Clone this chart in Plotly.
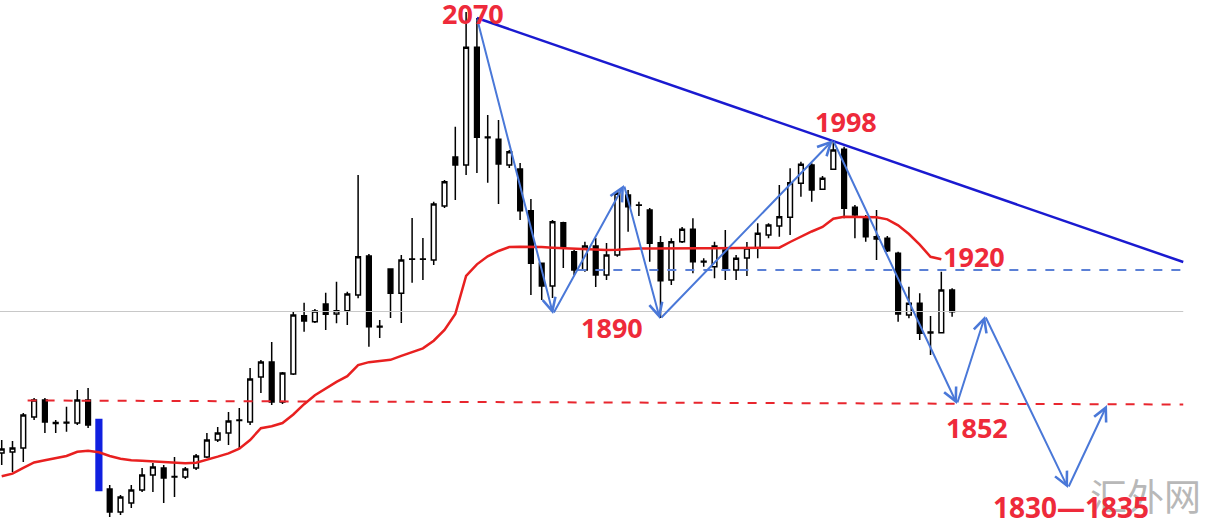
import plotly.graph_objects as go

# ---- candle data (index, open, high, low, close) ----
idx = list(range(0, 9)) + list(range(10, 89))
opens = [1809.0, 1809.6, 1812.0, 1830.6, 1840.8, 1827.3, 1827.4, 1827.0, 1840.8,
         1787.4, 1773.6, 1779.0, 1786.8, 1795.8, 1800.0, 1794.9, 1794.6, 1800.0, 1806.6,
         1816.8, 1821.0, 1828.8, 1827.6, 1854.6, 1863.6, 1839.6, 1856.4, 1891.4, 1887.8,
         1898.4, 1892.4, 1894.4, 1903.8, 1927.2, 1885.0, 1919.4, 1904.8, 1925.4, 1925.4,
         1924.8, 1957.2, 1986.6, 1981.8, 2052.4, 1998.6, 1997.2, 1981.8, 1979.4, 1954.4,
         1922.8, 1909.2, 1947.2, 1929.8, 1918.8, 1933.2, 1915.8, 1927.8, 1963.8, 1957.8,
         1954.8, 1935.2, 1912.8, 1935.8, 1943.2, 1924.0, 1920.8, 1930.8, 1918.8, 1926.0,
         1931.8, 1939.8, 1945.2, 1950.4, 1970.8, 1981.8, 1967.2, 1979.2, 1991.2, 1956.4,
         1950.8, 1938.8, 1937.8, 1928.8, 1891.8, 1898.8, 1881.6, 1881.2, 1906.8]
highs = [1816.8, 1816.2, 1833.0, 1842.0, 1842.0, 1828.8, 1836.8, 1846.8, 1848.0,
         1789.8, 1783.8, 1789.8, 1800.0, 1803.0, 1801.8, 1806.6, 1800.6, 1808.4, 1821.0,
         1824.6, 1833.6, 1836.0, 1860.0, 1864.8, 1875.6, 1857.6, 1893.8, 1899.2, 1895.4,
         1905.2, 1911.8, 1905.8, 1975.8, 1928.4, 1888.8, 1919.4, 1927.8, 1950.0, 1938.0,
         1959.8, 1972.8, 2004.8, 2073.6, 2070.0, 2011.8, 2008.8, 1990.8, 1983.0, 1961.4,
         1923.0, 1948.8, 1947.8, 1930.8, 1935.8, 1938.0, 1935.0, 1965.8, 1966.8, 1959.8,
         1956.0, 1939.2, 1937.8, 1944.6, 1949.8, 1925.8, 1935.8, 1942.8, 1927.8, 1935.6,
         1946.8, 1946.8, 1969.8, 1979.8, 1983.8, 1982.8, 1975.2, 1995.8, 1992.8, 1957.8,
         1951.8, 1954.8, 1939.2, 1929.8, 1908.8, 1904.8, 1891.2, 1917.8, 1907.8]
lows = [1801.8, 1797.6, 1803.6, 1828.8, 1821.0, 1821.0, 1821.8, 1825.8, 1824.0,
        1770.6, 1771.8, 1776.0, 1785.6, 1785.6, 1779.0, 1782.6, 1793.4, 1798.8, 1806.0,
        1815.6, 1813.8, 1812.0, 1825.8, 1845.0, 1837.8, 1838.4, 1855.8, 1881.8, 1887.0,
        1882.8, 1886.8, 1885.8, 1901.8, 1872.8, 1878.0, 1890.0, 1887.0, 1911.2, 1912.8,
        1921.8, 1956.0, 1960.8, 1975.8, 1977.0, 1971.2, 1958.4, 1980.0, 1948.8, 1903.8,
        1900.8, 1902.0, 1920.0, 1915.8, 1917.8, 1908.6, 1912.8, 1926.8, 1941.8, 1951.2,
        1923.8, 1890.0, 1909.8, 1935.0, 1916.8, 1920.8, 1913.8, 1912.8, 1912.8, 1915.2,
        1925.8, 1937.8, 1938.8, 1939.8, 1962.8, 1959.8, 1966.8, 1978.8, 1949.8, 1937.8,
        1935.8, 1924.8, 1929.6, 1887.8, 1889.8, 1876.8, 1867.8, 1880.8, 1890.8]
closes = [1811.4, 1812.0, 1831.8, 1840.8, 1827.6, 1826.7, 1827.0, 1840.8, 1825.8,
          1773.6, 1782.6, 1786.8, 1795.8, 1800.6, 1794.0, 1794.6, 1799.4, 1807.2, 1816.8,
          1821.0, 1828.2, 1828.5, 1853.4, 1863.6, 1839.6, 1857.0, 1891.8, 1888.2, 1894.2,
          1892.2, 1894.4, 1904.4, 1926.8, 1884.8, 1884.6, 1904.8, 1924.8, 1925.2, 1925.2,
          1958.4, 1971.8, 1981.8, 2052.4, 1998.4, 1998.2, 1982.4, 1989.8, 1954.4, 1922.8,
          1909.2, 1947.8, 1931.8, 1918.8, 1933.2, 1915.8, 1927.8, 1964.8, 1956.8, 1957.6,
          1934.8, 1912.4, 1935.8, 1943.2, 1923.8, 1923.6, 1933.2, 1918.8, 1925.8, 1932.0,
          1940.8, 1945.8, 1950.8, 1971.2, 1982.2, 1966.8, 1973.8, 1990.8, 1955.8, 1951.8,
          1938.8, 1937.4, 1930.4, 1892.4, 1898.8, 1880.8, 1881.0, 1906.8, 1893.8]

# highlighted (blue) candle
blue_idx = [9]
blue_open = [1828.8]
blue_close = [1786.8]

# moving average (red line), one value per candle
ma_values = [1795.0, 1796.6, 1800.1, 1803.3, 1804.7, 1806.0, 1807.2, 1809.7, 1810.4,
             1809.4, 1807.2, 1805.5, 1804.7, 1804.4, 1804.0, 1803.4, 1802.8, 1802.8, 1803.2,
             1804.8, 1806.8, 1808.8, 1811.6, 1816.8, 1823.9, 1825.1, 1827.0, 1832.1, 1838.3,
             1843.7, 1847.9, 1851.7, 1855.1, 1861.7, 1863.5, 1864.2, 1864.9, 1867.3, 1869.6,
             1871.8, 1876.4, 1882.8, 1892.4, 1915.2, 1922.2, 1927.0, 1930.2, 1932.6, 1932.8,
             1932.8, 1932.6, 1932.2, 1931.9, 1931.6, 1931.3, 1930.9, 1930.8, 1931.0, 1931.4,
             1931.7, 1931.7, 1931.8, 1931.8, 1931.8, 1931.8, 1931.8, 1931.8, 1931.8, 1931.8,
             1931.8, 1931.9, 1932.1, 1932.2, 1935.6, 1939.0, 1941.9, 1944.6, 1949.6, 1950.7,
             1950.7, 1950.6, 1950.5, 1949.2, 1945.6, 1940.4, 1934.0, 1926.7, 1925.2]
ma_idx = list(range(0, 88))

# resistance trendline
trend_x = [44.0, 109.4]
trend_y = [2070.0, 1923.6]
# levels
level_1920_x = [53.3, 109.4]
level_1920_y = [1918.8, 1918.8]
level_1852_x = [2.4, 109.4]
level_1852_y = [1840.5, 1838.1]
gray_x = [-0.2, 109.4]
gray_y = [1893.9, 1893.9]

# zigzag path vertices
zig_x = [44.0, 51.05, 57.62, 60.95, 76.97, 88.45, 91.05, 98.73, 102.34]
zig_y = [2070.0, 1892.4, 1969.8, 1889.4, 1996.8, 1838.4, 1891.2, 1788.0, 1837.8]

# labels
label_text = ["2070", "1998", "1890", "1920", "1852", "1830\u20141835"]
label_x = [43.6, 78.2, 56.5, 90.0, 90.3, 99.0]
label_y = [2073.0, 2008.2, 1884.6, 1927.2, 1824.6, 1776.6]
label_size = [27, 27, 27, 27, 27, 28]

RED = "#ee2a3a"
fig = go.Figure()

fig.add_trace(go.Scatter(x=gray_x, y=gray_y, mode="lines",
                         line=dict(color="#c8c8c8", width=1), hoverinfo="skip"))
fig.add_trace(go.Scatter(x=level_1852_x, y=level_1852_y, mode="lines",
                         line=dict(color="#e8262e", width=2, dash="dash"), hoverinfo="skip"))
fig.add_trace(go.Scatter(x=level_1920_x, y=level_1920_y, mode="lines",
                         line=dict(color="#5b80d6", width=2, dash="dash"), hoverinfo="skip"))

fig.add_trace(go.Candlestick(
    x=idx, open=opens, high=highs, low=lows, close=closes,
    increasing=dict(line=dict(color="black", width=1.5), fillcolor="white"),
    decreasing=dict(line=dict(color="black", width=1.5), fillcolor="black"),
    whiskerwidth=0, hoverinfo="skip"))
fig.add_trace(go.Candlestick(
    x=blue_idx, open=blue_open, high=blue_open, low=blue_close, close=blue_close,
    increasing=dict(line=dict(color="#1020e0", width=2.5), fillcolor="#1020e0"),
    decreasing=dict(line=dict(color="#1020e0", width=2.5), fillcolor="#1020e0"),
    whiskerwidth=0, hoverinfo="skip"))

fig.add_trace(go.Scatter(x=ma_idx, y=ma_values[:len(ma_idx)], mode="lines",
                         line=dict(color="#e82020", width=2.5), hoverinfo="skip"))
fig.add_trace(go.Scatter(x=trend_x, y=trend_y, mode="lines",
                         line=dict(color="#1a1ad0", width=2.5), hoverinfo="skip"))

annotations = [dict(x=0.943, y=0.058, xref="paper", yref="paper", text="汇外网",
                    showarrow=False, xanchor="center", yanchor="middle",
                    font=dict(family="Noto Sans CJK SC", size=37, color="#b8b8b8"))]
for k in range(len(zig_x) - 1):
    annotations.append(dict(
        x=zig_x[k + 1], y=zig_y[k + 1], ax=zig_x[k], ay=zig_y[k],
        xref="x", yref="y", axref="x", ayref="y", text="", showarrow=True,
        arrowhead=5, arrowsize=1.3, arrowwidth=2, arrowcolor="#4a78d8", standoff=0))
for t, xx, yy, sz in zip(label_text, label_x, label_y, label_size):
    annotations.append(dict(x=xx, y=yy, xref="x", yref="y", text="<b>%s</b>" % t,
                            showarrow=False, xanchor="center", yanchor="middle",
                            font=dict(family="Noto Sans", size=sz, color=RED)))

fig.update_layout(
    width=1215, height=525, margin=dict(l=0, r=0, t=0, b=0),
    paper_bgcolor="white", plot_bgcolor="white", showlegend=False,
    boxgap=0.38,
    annotations=annotations,
    xaxis=dict(range=[-0.157, 112.34], visible=False, rangeslider=dict(visible=False),
               fixedrange=True),
    yaxis=dict(range=[1765.8, 2080.8], visible=False, fixedrange=True),
)

fig.write_html("out.html", config={"displayModeBar": False},
               post_script="document.body.style.margin='0';document.body.style.overflow='hidden';")
